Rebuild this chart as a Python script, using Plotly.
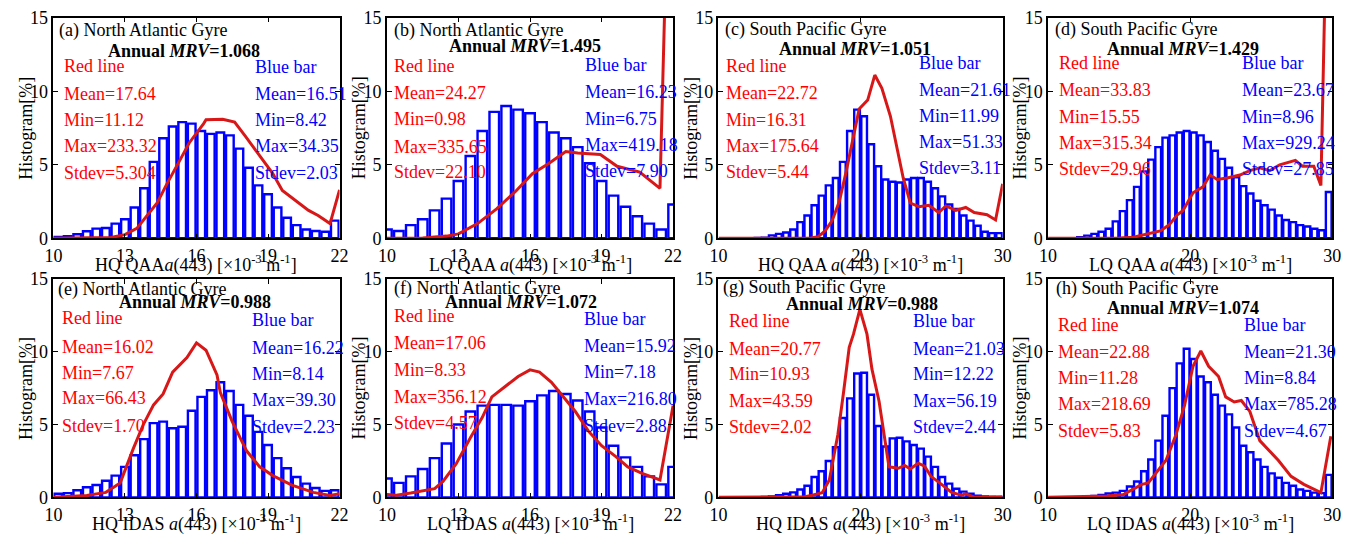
import numpy as np
import plotly.graph_objects as go

W, H = 1361, 546
FONT = "Liberation Serif"

# ---------------- data ----------------
# histogram bar centres: (first centre, last centre, spacing)
GRID_NA_HQ = (10.2, 21.8, 0.4)    # North Atlantic, HQ: 30 bins
GRID_NA_LQ = (10.0, 22.0, 0.5)    # North Atlantic, LQ: 25 bins (edge bins half shown)
GRID_SP = (10.25, 29.75, 0.5)     # South Pacific: 40 bins
X_RANGE_NA = (10, 22)
X_RANGE_SP = (10, 30)

bars_a = [0.09, 0.15, 0.28, 0.48, 0.66, 0.70, 1.0, 1.3, 2.1, 3.4, 5.2, 6.8, 7.6, 7.9, 7.8,
          7.3, 7.1, 7.2, 7.0, 6.1, 4.8, 3.6, 3.0, 2.1, 1.4, 0.9, 0.6, 0.5, 0.45, 1.2]
bars_b = [0.6, 0.5, 0.9, 1.3, 1.9, 2.7, 3.9, 5.6, 7.3, 8.6, 9.0, 8.75, 8.5, 7.9, 7.2,
          6.8, 6.2, 5.1, 3.9, 2.9, 2.15, 1.5, 1.0, 0.6, 2.3]
bars_c = [None, None, None, None, None, 0.02, 0.05, 0.2, 0.3, 0.4, 0.6, 1.1, 1.55, 2.25,
          2.9, 3.6, 4.1, 5.2, 7.3, 8.75, 8.3, 6.4, 4.9, 4.0, 3.85, 3.8, 4.0, 4.1, 4.1, 3.85,
          3.4, 2.85, 2.3, 2.0, 1.55, 1.2, 0.85, 0.45, 0.35, 0.35]
bars_d = [None, None, None, None, 0.07, 0.18, 0.3, 0.45, 0.65, 1.15, 1.85, 2.6, 3.5, 4.55,
          5.35, 6.2, 6.85, 7.0, 7.2, 7.3, 7.2, 7.0, 6.55, 5.95, 5.4, 4.8, 4.15, 3.55, 3.05,
          2.55, 2.25, 1.95, 1.55, 1.25, 1.1, 0.9, 0.8, 0.65, 0.55, 3.15]
bars_e = [0.25, 0.3, 0.5, 0.7, 0.85, 1.15, 1.5, 2.1, 2.9, 4.0, 5.1, 5.2, 4.75, 4.85, 5.95,
          6.9, 7.35, 7.9, 7.3, 6.35, 5.6, 4.5, 3.6, 2.7, 2.0, 1.4, 0.95, 0.65, 0.45, 0.5]
bars_f = [1.3, 1.0, 1.45, 1.95, 2.7, 3.7, 5.0, 5.9, 6.3, 6.35, 6.35, 6.3, 6.6, 7.0, 7.3,
          7.1, 6.65, 5.9, 4.8, 3.55, 2.75, 2.1, 1.45, 0.9, 2.1]
bars_g = [None, None, None, None, None, None, 0.03, 0.07, 0.15, 0.25, 0.35, 0.55, 0.8, 1.4,
          1.8, 2.5, 3.45, 5.45, 6.8, 8.5, 8.55, 7.05, 4.9, 3.5, 4.05, 4.1, 3.85, 3.6, 3.35,
          2.8, 2.1, 1.4, 0.95, 0.6, 0.4, 0.25, 0.12, 0.07, 0.03, 0.02]
bars_h = [None, None, None, None, 0.02, 0.05, 0.1, 0.18, 0.27, 0.33, 0.45, 0.75, 1.1, 1.8,
          2.6, 3.9, 5.6, 7.5, 9.2, 10.2, 9.5, 8.3, 7.9, 7.05, 6.3, 5.7, 4.8, 3.55, 3.1, 2.6,
          2.1, 1.65, 1.35, 1.0, 0.8, 0.55, 0.45, 0.33, 0.3, 1.55]

red_a_x = [10, 12.0, 12.4, 13.0, 13.5, 14.35, 14.76, 15.3, 15.7, 16.3, 16.4, 17.1, 17.6,
           18.07, 18.6, 19.2, 19.6, 20.0, 20.7, 21.1, 21.6, 22.0]
red_a_y = [0, 0.02, 0.05, 0.25, 0.68, 2.4, 3.7, 5.3, 6.5, 7.8, 8.06, 8.1, 7.9, 6.9, 5.7,
           4.4, 3.25, 2.75, 1.9, 1.55, 1.0, 3.3]
red_b_x = [10, 11.5, 12.5, 13.0, 13.8, 14.6, 15.4, 16.1, 16.8, 17.5, 18.0, 18.95, 19.65,
           20.6, 21.45, 21.75]
red_b_y = [0, 0.02, 0.15, 0.3, 1.0, 2.0, 3.2, 4.4, 5.1, 5.9, 5.8, 5.7, 4.9, 4.5, 3.4, 22]
red_c_x = [10, 16.5, 17.0, 17.5, 18.0, 18.5, 19.0, 19.5, 19.9, 20.5, 21.0, 21.5, 22.1, 23.0,
           23.5, 24.1, 24.8, 25.5, 26.0, 26.7, 27.4, 28.0, 28.9, 29.5, 30.0]
red_c_y = [0, 0.02, 0.1, 0.5, 1.2, 2.5, 4.6, 7.0, 8.8, 9.4, 11.1, 10.2, 8.3, 4.1, 2.4, 2.15,
           2.25, 1.75, 2.2, 1.9, 2.1, 1.75, 1.6, 1.25, 3.7]
red_d_x = [10, 15.0, 16.0, 17.0, 17.9, 18.5, 19.1, 19.5, 20.2, 20.9, 21.4, 21.9, 22.6, 23.5,
           24.2, 24.9, 25.6, 26.3, 27.4, 27.9, 28.7, 29.2, 29.6]
red_d_y = [0, 0.02, 0.08, 0.3, 0.5, 0.9, 1.6, 1.9, 3.1, 3.5, 4.3, 4.0, 4.1, 4.3, 4.6, 4.8,
           4.6, 5.0, 5.3, 4.9, 4.9, 3.6, 22]
red_e_x = [10, 11.4, 12.2, 12.8, 13.35, 13.77, 14.2, 14.6, 15.0, 15.6, 16.0, 16.4, 16.86,
           17.0, 17.5, 18.1, 18.65, 19.2, 20.0, 20.9, 21.6, 22.0]
red_e_y = [0.02, 0.13, 0.35, 1.0, 3.35, 5.0, 6.35, 7.1, 8.6, 9.6, 10.6, 10.1, 8.4, 7.2, 5.2,
           3.2, 2.1, 1.5, 0.85, 0.35, 0.13, 0.25]
red_f_x = [10, 10.4, 11.0, 11.5, 12.0, 12.35, 12.9, 13.5, 14.0, 14.4, 15.0, 15.5, 16.0, 16.4,
           16.9, 17.4, 17.9, 18.45, 19.0, 19.6, 20.1, 20.7, 21.45, 22.0]
red_f_y = [0.2, 0.15, 0.3, 0.45, 0.6, 1.1, 2.3, 4.1, 5.5, 6.9, 7.7, 8.3, 8.75, 8.6, 7.9, 6.9,
           5.9, 4.55, 3.55, 2.8, 2.1, 1.65, 1.2, 6.3]
red_g_x = [10, 16.0, 16.6, 17.3, 17.8, 18.4, 18.8, 19.2, 19.5, 19.95, 20.45, 20.8, 21.3, 21.6,
           22.0, 22.65, 23.1, 23.5, 24.05, 24.5, 24.95, 25.7, 26.4, 27.1, 27.4, 28.0, 29.4, 30.0]
red_g_y = [0.02, 0.03, 0.15, 0.33, 1.2, 4.3, 7.2, 10.3, 11.2, 12.9, 11.2, 8.8, 6.6, 4.55,
           2.1, 2.0, 2.2, 1.95, 2.35, 2.15, 1.45, 0.9, 0.35, 0.15, 0.25, 0.02, 0.02, 0.05]
red_h_x = [10, 14.2, 15.3, 16.0, 16.6, 17.05, 17.6, 18.3, 19.0, 19.6, 20.2, 20.75, 21.3, 22.0,
           22.5, 23.1, 23.6, 24.2, 24.9, 25.5, 26.2, 27.1, 28.0, 29.2, 29.9]
red_h_y = [0.02, 0.1, 0.2, 0.55, 0.9, 1.0, 1.65, 2.55, 4.3, 6.3, 9.0, 10.05, 9.0, 8.3, 6.9,
           6.55, 6.65, 5.9, 3.9, 3.3, 2.55, 1.45, 0.9, 0.33, 4.2]

panel_tags = ["(a)", "(b)", "(c)", "(d)", "(e)", "(f)", "(g)", "(h)"]
regions = ["North Atlantic Gyre", "North Atlantic Gyre", "South Pacific Gyre", "South Pacific Gyre",
           "North Atlantic Gyre", "North Atlantic Gyre", "South Pacific Gyre", "South Pacific Gyre"]
mrv = ["1.068", "1.495", "1.051", "1.429", "0.988", "1.072", "0.988", "1.074"]
x_names = ["HQ QAA<i>a</i>", "LQ QAA <i>a</i>", "HQ QAA <i>a</i>", "LQ QAA <i>a</i>",
           "HQ IDAS <i>a</i>", "LQ IDAS <i>a</i>", "HQ IDAS <i>a</i>", "LQ IDAS <i>a</i>"]
red_stats = [("17.64", "11.12", "233.32", "5.304"), ("24.27", "0.98", "335.65", "22.10"),
             ("22.72", "16.31", "175.64", "5.44"), ("33.83", "15.55", "315.34", "29.96"),
             ("16.02", "7.67", "66.43", "1.70"), ("17.06", "8.33", "356.12", "4.57"),
             ("20.77", "10.93", "43.59", "2.02"), ("22.88", "11.28", "218.69", "5.83")]
blue_stats = [("16.51", "8.42", "34.35", "2.03"), ("16.23", "6.75", "419.18", "7.90"),
              ("21.61", "11.99", "51.33", "3.11"), ("23.67", "8.96", "929.24", "27.85"),
              ("16.22", "8.14", "39.30", "2.23"), ("15.92", "7.18", "216.80", "2.88"),
              ("21.03", "12.22", "56.19", "2.44"), ("21.30", "8.84", "785.28", "4.67")]
ticks_na = [10, 13, 16, 19, 22]
ticks_sp = [10, 20, 30]
y_ticks = [0, 5, 10, 15]

bars_all = [bars_a, bars_b, bars_c, bars_d, bars_e, bars_f, bars_g, bars_h]
reds_all = [(red_a_x, red_a_y), (red_b_x, red_b_y), (red_c_x, red_c_y), (red_d_x, red_d_y),
            (red_e_x, red_e_y), (red_f_x, red_f_y), (red_g_x, red_g_y), (red_h_x, red_h_y)]
grids = [GRID_NA_HQ, GRID_NA_LQ, GRID_SP, GRID_SP, GRID_NA_HQ, GRID_NA_LQ, GRID_SP, GRID_SP]
x_ranges = [X_RANGE_NA, X_RANGE_NA, X_RANGE_SP, X_RANGE_SP] * 2

# ---------------- layout geometry (pixels) ----------------
col_left = [45, 383, 719, 1053]
col_right = [335, 673, 1007, 1341]
row_top = [8, 279]
row_bot = [237, 506]

# text offsets inside each panel, relative to plot top-left (px)
txt_pos = [
    dict(tag=(4, 13), mrv=(132, 35), red=(9, [50, 79, 106, 133, 161]), blue=(202, [51, 79, 106, 133, 161])),
    dict(tag=(5, 13), mrv=(140, 29), red=(5, [50, 78, 105, 134, 160]), blue=(199, [49, 77, 105, 132, 159])),
    dict(tag=(5, 12), mrv=(138, 32), red=(6, [50, 78, 106, 133, 160]), blue=(201, [47, 75, 102, 129, 156])),
    dict(tag=(5, 12), mrv=(137, 33), red=(9, [47, 75, 103, 130, 157]), blue=(195, [47, 75, 103, 130, 157])),
    dict(tag=(3, 11), mrv=(143, 24), red=(7, [41, 71, 98, 124, 153]), blue=(199, [43, 72, 99, 126, 154])),
    dict(tag=(5, 10), mrv=(136, 24), red=(5, [39, 67, 95, 123, 150]), blue=(198, [42, 70, 97, 125, 153])),
    dict(tag=(3, 9), mrv=(145, 26), red=(9, [44, 73, 99, 127, 154]), blue=(195, [44, 73, 99, 127, 154])),
    dict(tag=(6, 10), mrv=(137, 30), red=(8, [48, 76, 103, 130, 158]), blue=(197, [48, 76, 103, 130, 158])),
]

RED_LINE = "#D81818"
RED_TXT = "#FF0000"
BLUE = "#0000FF"


def px(x, y):
    return x / W, 1 - y / H


fig = go.Figure()
annotations = []

for i in range(8):
    r, c = divmod(i, 4)
    n = i + 1
    xa = "x" if n == 1 else f"x{n}"
    ya = "y" if n == 1 else f"y{n}"
    c0, c1, step = grids[i]
    centers = np.arange(c0, c1 + step / 2, step)
    lo, hi = x_ranges[i]

    fig.add_trace(go.Bar(
        x=centers, y=bars_all[i], width=step * 0.8, xaxis=xa, yaxis=ya,
        marker=dict(color="white", line=dict(color=BLUE, width=2.4)),
        showlegend=False, hoverinfo="skip"))
    rx, ry = reds_all[i]
    fig.add_trace(go.Scatter(
        x=rx, y=ry, mode="lines", xaxis=xa, yaxis=ya,
        line=dict(color=RED_LINE, width=3), showlegend=False, hoverinfo="skip"))

    L, R = col_left[c], col_right[c]
    T, B = row_top[r], row_bot[r]
    xdom = [L / W, R / W]
    ydom = [1 - B / H, 1 - T / H]
    axis_common = dict(showline=True, linecolor="black", linewidth=1.5, mirror="ticks",
                       ticks="inside", ticklen=5, tickwidth=1, tickcolor="black",
                       showgrid=False, zeroline=False,
                       tickfont=dict(family=FONT, size=18, color="black"))
    fig.update_layout(**{
        ("xaxis" if n == 1 else f"xaxis{n}"): dict(
            domain=xdom, anchor=ya, range=[lo, hi],
            tickvals=ticks_na if hi == 22 else ticks_sp, **axis_common),
        ("yaxis" if n == 1 else f"yaxis{n}"): dict(
            domain=ydom, anchor=xa, range=[0, 15], tickvals=y_ticks, **axis_common),
    })

    p = txt_pos[i]
    def add(text, x, y, color="black", anchor="left", size=18, angle=0):
        ax, ay = px(x, y)
        annotations.append(dict(text=text, x=ax, y=ay, xref="paper", yref="paper",
                                xanchor=anchor, yanchor="middle", showarrow=False,
                                textangle=angle,
                                font=dict(family=FONT, size=size, color=color)))

    add(f"{panel_tags[i]} {regions[i]}", L + p["tag"][0], T + p["tag"][1])
    add(f"<b>Annual <i>MRV</i>={mrv[i]}</b>", L + p["mrv"][0], T + p["mrv"][1], anchor="center")
    rxo, rys = p["red"]
    bxo, bys = p["blue"]
    labels = ["Mean=", "Min=", "Max=", "Stdev="]
    add("Red line", L + rxo, T + rys[0], RED_TXT)
    add("Blue bar", L + bxo, T + bys[0], BLUE)
    for k in range(4):
        add(labels[k] + red_stats[i][k], L + rxo, T + rys[k + 1], RED_TXT)
        add(labels[k] + blue_stats[i][k], L + bxo, T + bys[k + 1], BLUE)

    # axis titles
    add(f"{x_names[i]}(443) [×10<sup>-3</sup> m<sup>-1</sup>]", (L + R) / 2, B + 27, anchor="center")
    add("Histogram[%]", L - 28, (T + B) / 2, anchor="center", angle=-90)

fig.update_layout(
    width=W, height=H, margin=dict(l=0, r=0, t=0, b=0),
    paper_bgcolor="white", plot_bgcolor="white",
    barmode="overlay", annotations=annotations,
)

fig.write_html("out.html")
